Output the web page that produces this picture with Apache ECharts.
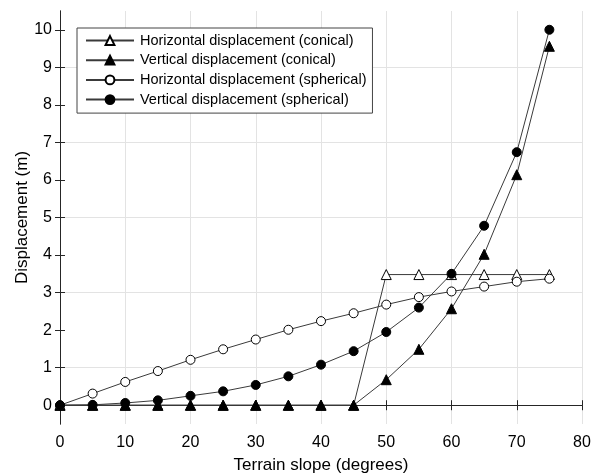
<!DOCTYPE html>
<html>
<head>
<meta charset="utf-8">
<script src="https://cdn.jsdelivr.net/npm/echarts@6/dist/echarts.min.js"></script>
<style>
  html, body { margin: 0; padding: 0; background: #fff; }
  #chart { width: 601px; height: 474px; }
</style>
</head>
<body>
<div id="chart"></div>
<script>
// terrain slope (degrees)
const slopes = [0, 5, 10, 15, 20, 25, 30, 35, 40, 45, 50, 55, 60, 65, 70, 75];
// displacements (m)
const horizConical = [0, 0, 0, 0, 0, 0, 0, 0, 0, 0, 3.48, 3.48, 3.48, 3.48, 3.48, 3.48];
const vertConical = [0, 0, 0, 0, 0, 0, 0, 0, 0, 0, 0.68, 1.49, 2.57, 4.02, 6.14, 9.56];
const horizSpherical = [0, 0.31, 0.62, 0.91, 1.21, 1.49, 1.75, 2.01, 2.24, 2.45, 2.68, 2.88, 3.03, 3.16, 3.29, 3.37];
const vertSpherical = [0, 0.01, 0.06, 0.13, 0.25, 0.37, 0.54, 0.77, 1.08, 1.44, 1.95, 2.6, 3.5, 4.78, 6.74, 10.0];
const yTicks = [0, 1, 2, 3, 4, 5, 6, 7, 8, 9, 10];

const seriesNames = [
  'Horizontal displacement (conical)',
  'Vertical displacement (conical)',
  'Horizontal displacement (spherical)',
  'Vertical displacement (spherical)'
];

const pairs = ys => slopes.map((x, i) => [x, ys[i]]);

const font = 'Liberation Sans, Arial, sans-serif';
const axisColor = '#262626';
const gridColor = '#e3e3e3';

const chart = echarts.init(document.getElementById('chart'));

const mkSeries = (name, ys, symbol, filled, size) => ({
  name: name,
  type: 'line',
  data: pairs(ys),
  symbol: symbol,
  symbolSize: size,
  showAllSymbol: true,
  lineStyle: { color: '#3a3a3a', width: 1 },
  itemStyle: {
    color: filled ? '#000' : '#fff',
    borderColor: '#000',
    borderWidth: 1
  },
  emphasis: { disabled: true },
  animation: false
});

chart.setOption({
  animation: false,
  textStyle: { fontFamily: font },
  grid: { left: 60, right: 19, top: 11, bottom: 50, outerBoundsMode: 'none' },
  legend: {
    left: 77,
    top: 28,
    orient: 'vertical',
    data: seriesNames,
    itemWidth: 48,
    itemHeight: 11,
    itemGap: 4.7,
    padding: [5, 6, 6, 8],
    backgroundColor: '#fff',
    borderColor: '#444',
    borderWidth: 1,
    borderRadius: 0,
    textStyle: { fontFamily: font, fontSize: 14.5, color: '#000', padding: [0, 0, 0, 1] }
  },
  xAxis: [
    {
      type: 'value',
      min: 0,
      max: 80,
      interval: 10,
      name: 'Terrain slope (degrees)',
      nameLocation: 'middle',
      nameGap: 33,
      nameMoveOverlap: false,
      nameTextStyle: { fontFamily: font, fontSize: 17, color: '#000' },
      axisLine: { show: true, lineStyle: { color: axisColor, width: 1 } },
      axisTick: { show: true, inside: true, length: 5, lineStyle: { color: axisColor } },
      axisLabel: { fontFamily: font, fontSize: 16, color: '#000', margin: 11 },
      splitLine: { show: true, lineStyle: { color: gridColor, width: 1 } }
    },
    {
      type: 'value',
      position: 'top',
      min: 0,
      max: 80,
      interval: 10,
      axisLine: { show: true, lineStyle: { color: axisColor, width: 1 } },
      axisTick: { show: true, inside: true, length: 5, lineStyle: { color: axisColor } },
      axisLabel: { show: false },
      splitLine: { show: false }
    }
  ],
  yAxis: [
    {
      type: 'value',
      min: -0.5,
      max: 10.5,
      interval: 0.5,
      name: 'Displacement (m)',
      nameLocation: 'middle',
      nameGap: 29,
      nameMoveOverlap: false,
      nameTextStyle: { fontFamily: font, fontSize: 17, color: '#000' },
      axisLine: { show: true, lineStyle: { color: axisColor, width: 1 } },
      axisTick: { show: true, inside: true, length: 5, customValues: yTicks, lineStyle: { color: axisColor } },
      axisLabel: { fontFamily: font, fontSize: 16, color: '#000', margin: 8, customValues: yTicks },
      splitLine: { show: true, lineStyle: { color: ['rgba(0,0,0,0)', gridColor], width: 1 } }
    },
    {
      type: 'value',
      position: 'right',
      min: -0.5,
      max: 10.5,
      interval: 0.5,
      axisLine: { show: true, lineStyle: { color: axisColor, width: 1 } },
      axisTick: { show: true, inside: true, length: 5, customValues: yTicks, lineStyle: { color: axisColor } },
      axisLabel: { show: false },
      splitLine: { show: false }
    }
  ],
  series: [
    mkSeries(seriesNames[0], horizConical, 'triangle', false, 10),
    mkSeries(seriesNames[1], vertConical, 'triangle', true, 10),
    mkSeries(seriesNames[2], horizSpherical, 'circle', false, 9),
    mkSeries(seriesNames[3], vertSpherical, 'circle', true, 9)
  ]
});
</script>
</body>
</html>
